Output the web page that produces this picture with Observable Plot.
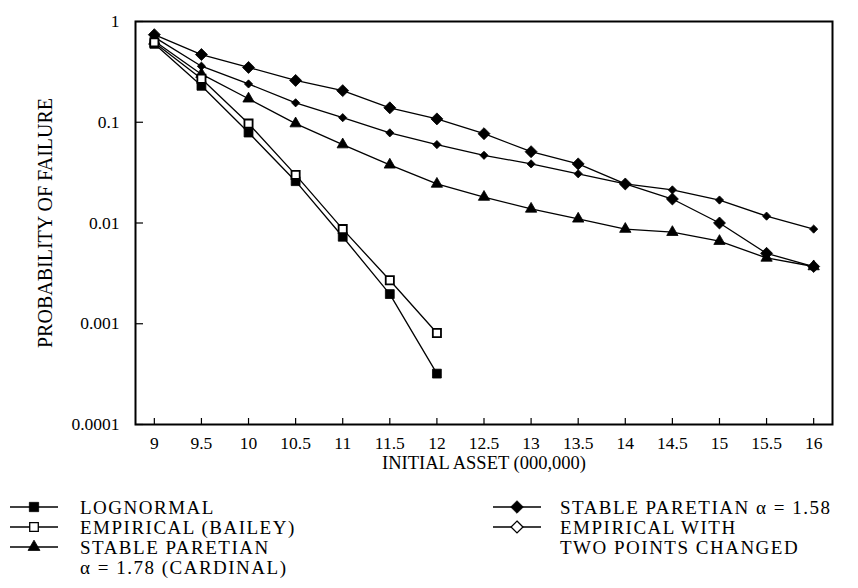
<!DOCTYPE html>
<html>
<head>
<meta charset="utf-8">
<script src="https://cdn.jsdelivr.net/npm/d3@7"></script>
<script src="https://cdn.jsdelivr.net/npm/@observablehq/plot@0.6"></script>
<style>
  html, body { margin: 0; padding: 0; background: #fff; }
  #wrap { width: 858px; height: 588px; position: relative; font-family: "Liberation Serif", "DejaVu Serif", serif; }
  #legend { position: absolute; left: 0; top: 490px; width: 858px; height: 98px; }
  .lg { position: absolute; font-size: 19px; letter-spacing: 1.5px; color: #000; line-height: 19px; white-space: nowrap; }
  .glyph { position: absolute; }
</style>
</head>
<body>
<div id="wrap">
  <div id="chart"></div>
  <div id="legend"></div>
</div>
<script>
// ---- data ----
const asset = [9, 9.5, 10, 10.5, 11, 11.5, 12, 12.5, 13, 13.5, 14, 14.5, 15, 15.5, 16];

const lognormal      = [0.60, 0.23, 0.079, 0.026, 0.0073, 0.00197, 0.00032];
const empiricalBailey = [0.62, 0.27, 0.097, 0.030, 0.0087, 0.0027, 0.00081];
const stable178      = [0.64, 0.30, 0.171, 0.097, 0.060, 0.0378, 0.0244, 0.0181, 0.0138, 0.0110, 0.0087, 0.0081, 0.0066, 0.0045, 0.0037];
const stable158      = [0.74, 0.47, 0.35, 0.26, 0.206, 0.139, 0.108, 0.077, 0.051, 0.0386, 0.0244, 0.0173, 0.0100, 0.0050, 0.0037];
const empiricalTwo   = [0.70, 0.36, 0.24, 0.156, 0.111, 0.0785, 0.060, 0.047, 0.0386, 0.0308, 0.0244, 0.0213, 0.0169, 0.0117, 0.0087];

const seriesNames = ["LOGNORMAL", "EMPIRICAL (BAILEY)", "STABLE PARETIAN 1.78", "STABLE PARETIAN 1.58", "EMPIRICAL TWO POINTS"];

const xTicks = [9, 9.5, 10, 10.5, 11, 11.5, 12, 12.5, 13, 13.5, 14, 14.5, 15, 15.5, 16];
const yTicks = [1, 0.1, 0.01, 0.001, 0.0001];
const yTickLabels = ["1", "0.1", "0.01", "0.001", "0.0001"];

const xLabel = "INITIAL ASSET (000,000)";
const yLabel = "PROBABILITY OF FAILURE";

const legendLeft = [
  {key: "LOGNORMAL", lines: ["LOGNORMAL"]},
  {key: "EMPIRICAL (BAILEY)", lines: ["EMPIRICAL (BAILEY)"]},
  {key: "STABLE PARETIAN 1.78", lines: ["STABLE PARETIAN", "α = 1.78 (CARDINAL)"]}
];
const legendRight = [
  {key: "STABLE PARETIAN 1.58", lines: ["STABLE PARETIAN α = 1.58"]},
  {key: "EMPIRICAL TWO POINTS", lines: ["EMPIRICAL WITH", "TWO POINTS CHANGED"]}
];

// ---- build table ----
const valueSets = [lognormal, empiricalBailey, stable178, stable158, empiricalTwo];
const rows = [];
valueSets.forEach((vals, si) => {
  vals.forEach((v, i) => rows.push({series: seriesNames[si], x: asset[i], y: v}));
});

// styling per series (markers)
const style = {
  "LOGNORMAL": {symbol: "square", r: 5, fill: "black"},
  "EMPIRICAL (BAILEY)": {symbol: "square", r: 4.6, fill: "white"},
  "STABLE PARETIAN 1.78": {symbol: "triangle", r: 4.2, fill: "black"},
  "STABLE PARETIAN 1.58": {symbol: "diamond2", r: 5.4, fill: "black"},
  "EMPIRICAL TWO POINTS": {symbol: "diamond2", r: 3.7, fill: "black"}
};

const W = 858, H = 480;
const mL = 135, mR = 26, mT = 21, mB = 56;
const fw = W - mL - mR, fh = H - mT - mB;

const marks = [];
seriesNames.forEach(s => {
  marks.push(Plot.line(rows.filter(d => d.series === s), {x: "x", y: "y", stroke: "black", strokeWidth: 1.3}));
});
["EMPIRICAL TWO POINTS", "STABLE PARETIAN 1.58", "STABLE PARETIAN 1.78", "LOGNORMAL", "EMPIRICAL (BAILEY)"].forEach(s => {
  const st = style[s];
  marks.push(Plot.dot(rows.filter(d => d.series === s), {
    x: "x", y: "y", symbol: () => st.symbol, r: st.r, fill: st.fill, stroke: "black", strokeWidth: st.fill === "white" ? 1.8 : 0.8
  }));
});

const chart = Plot.plot({
  width: W, height: H,
  marginLeft: mL, marginRight: mR, marginTop: mT, marginBottom: mB,
  style: {fontFamily: "Liberation Serif, serif", fontSize: "17.5px", color: "black", background: "white"},
  symbol: {type: "identity"},
  x: {domain: [8.8, 16.2]},
  y: {type: "log", domain: [0.0001, 1]},
  marks: [
    Plot.axisX({ticks: xTicks, tickSize: 0, tickPadding: 12, tickFormat: d => String(d), label: null, fontSize: 17.5}),
    Plot.axisY({ticks: yTicks, tickSize: 0, tickPadding: 16, tickFormat: d => yTickLabels[yTicks.indexOf(d)], label: null, fontSize: 17.5}),
    Plot.ruleX(xTicks, {x: d => d, insetTop: fh - 6, stroke: "black", strokeWidth: 1.2}),
    Plot.ruleY(yTicks, {y: d => d, insetRight: fw - 8, stroke: "black", strokeWidth: 1.2}),
    Plot.frame({stroke: "black", strokeWidth: 2}),
    Plot.text([xLabel], {text: d => d, frameAnchor: "bottom", dy: 44, fontSize: 18.5, fill: "black"}),
    Plot.text([yLabel], {text: d => d, frameAnchor: "left", textAnchor: "middle", rotate: -90, dx: -90, fontSize: 20, fill: "black"}),
    ...marks
  ]
});
document.getElementById("chart").appendChild(chart);

// ---- legend (HTML + small svg glyphs) ----
const legend = document.getElementById("legend");
function glyph(key, open) {
  const st = style[key];
  const ns = "http://www.w3.org/2000/svg";
  const svg = document.createElementNS(ns, "svg");
  svg.setAttribute("width", 50); svg.setAttribute("height", 20);
  svg.setAttribute("class", "glyph");
  const line = document.createElementNS(ns, "line");
  line.setAttribute("x1", 0); line.setAttribute("x2", 48); line.setAttribute("y1", 10); line.setAttribute("y2", 10);
  line.setAttribute("stroke", "black"); line.setAttribute("stroke-width", 1.4);
  svg.appendChild(line);
  const symMap = {square: d3.symbolSquare, triangle: d3.symbolTriangle, diamond2: d3.symbolDiamond2};
  const r = st.r * (key === "EMPIRICAL TWO POINTS" ? 1.45 : 1.05);
  const p = document.createElementNS(ns, "path");
  p.setAttribute("d", d3.symbol(symMap[st.symbol], Math.PI * r * r)());
  p.setAttribute("transform", "translate(24,10)");
  const isOpen = open || st.fill === "white";
  p.setAttribute("fill", isOpen ? "white" : "black");
  p.setAttribute("stroke", "black"); p.setAttribute("stroke-width", isOpen ? 1.3 : 0.8);
  svg.appendChild(p);
  return svg;
}
function addItems(items, gx, tx, tops) {
  items.forEach((it, i) => {
    const g = glyph(it.key, it.key === "EMPIRICAL TWO POINTS");
    g.style.left = gx + "px"; g.style.top = (tops[i] - 10) + "px";
    legend.appendChild(g);
    it.lines.forEach((ln, j) => {
      const d = document.createElement("div");
      d.className = "lg";
      d.style.left = tx + "px";
      d.style.top = (tops[i] - 9.5 + j * 20) + "px";
      d.textContent = ln;
      legend.appendChild(d);
    });
  });
}
addItems(legendLeft, 10, 80, [17, 37, 57]);
addItems(legendRight, 493, 560, [17, 37]);
</script>
</body>
</html>
